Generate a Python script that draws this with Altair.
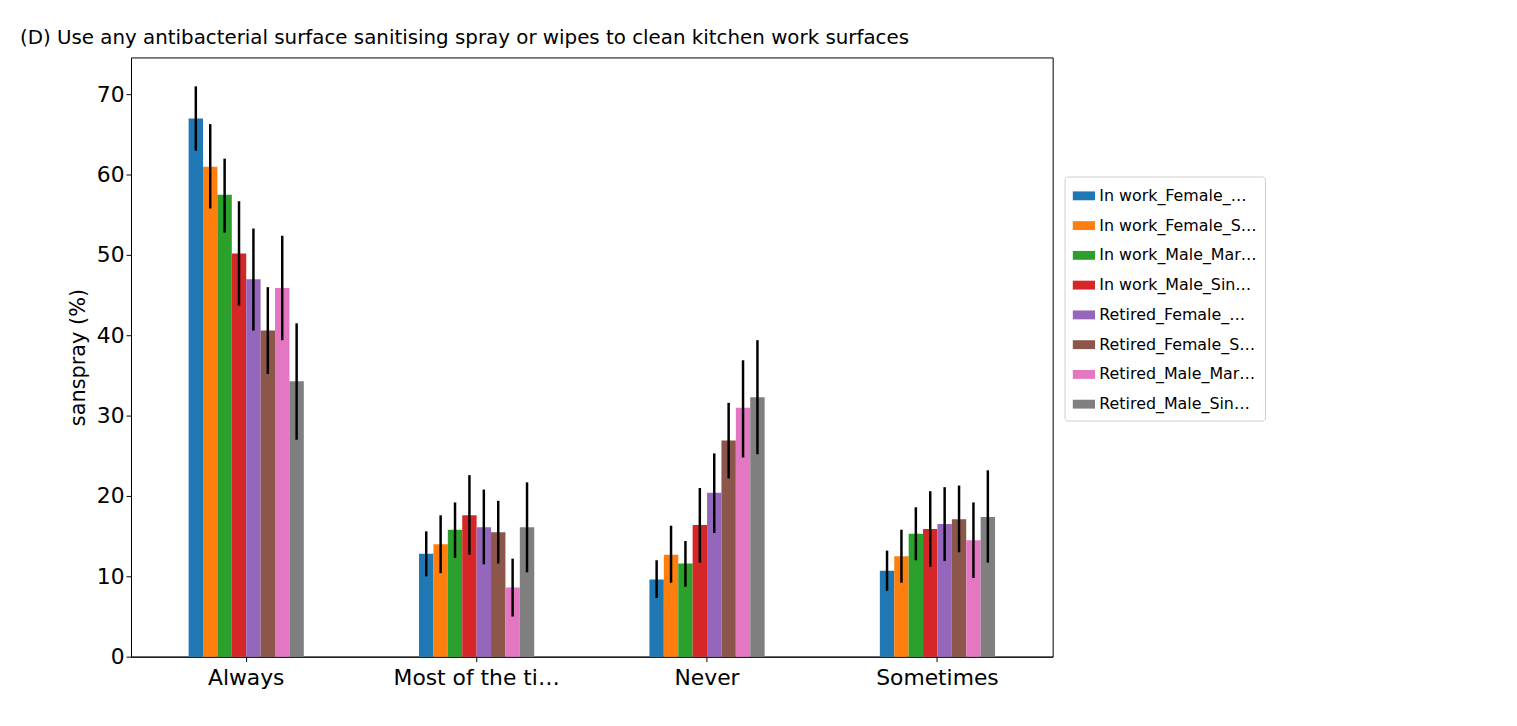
import altair as alt
import pandas as pd

cats = ["Always", "Most of the time", "Never", "Sometimes"]
groups = ["In work_Female_Married/Partnership", "In work_Female_Single/Other",
          "In work_Male_Married/Partnership", "In work_Male_Single/Other",
          "Retired_Female_Married/Partnership", "Retired_Female_Single/Other",
          "Retired_Male_Married/Partnership", "Retired_Male_Single/Other"]
colors = ["#1f77b4", "#ff7f0e", "#2ca02c", "#d62728", "#9467bd", "#8c564b", "#e377c2", "#7f7f7f"]
vals = [
    [67, 61, 57.5, 50.2, 47, 40.6, 45.9, 34.3],
    [12.8, 14, 15.8, 17.6, 16.1, 15.5, 8.6, 16.1],
    [9.6, 12.7, 11.6, 16.4, 20.4, 26.9, 31, 32.3],
    [10.7, 12.5, 15.3, 15.9, 16.5, 17.1, 14.5, 17.4],
]
hi = [
    [71, 66.3, 62, 56.7, 53.3, 46, 52.4, 41.5],
    [15.6, 17.6, 19.2, 22.6, 20.8, 19.4, 12.2, 21.7],
    [12, 16.3, 14.4, 21, 25.3, 31.6, 36.9, 39.4],
    [13.2, 15.8, 18.6, 20.6, 21.1, 21.3, 19.2, 23.2],
]
lo = [
    [63, 55.8, 52.8, 43.7, 40.6, 35.2, 39.4, 27],
    [10, 10.4, 12.3, 12.7, 11.5, 11.6, 5, 10.5],
    [7.3, 9.2, 8.7, 11.7, 15.4, 22.2, 24.8, 25.2],
    [8.2, 9.2, 12, 11.2, 11.9, 13, 9.8, 11.7],
]

rows = []
for i, c in enumerate(cats):
    for j, g in enumerate(groups):
        rows.append({"cat": c, "grp": g, "v": vals[i][j], "hi": hi[i][j], "lo": lo[i][j]})
df = pd.DataFrame(rows)

x = alt.X("cat:N", sort=cats, title=None,
          scale=alt.Scale(paddingInner=0.5, paddingOuter=0.25),
          axis=alt.Axis(labelAngle=0, labelFontSize=22, labelColor="black", tickColor="black",
                        domainColor="black", labelPadding=6))
xo = alt.XOffset("grp:N", sort=groups, scale=alt.Scale(paddingInner=0, paddingOuter=0))

bars = alt.Chart(df).mark_bar().encode(
    x=x, xOffset=xo,
    y=alt.Y("v:Q", title="sanspray (%)", scale=alt.Scale(domain=[0, 74.6], nice=False),
            axis=alt.Axis(values=[0, 10, 20, 30, 40, 50, 60, 70], grid=False, labelFontSize=22,
                          titleFontSize=21, titleFontWeight="normal", labelColor="black",
                          titleColor="black", tickColor="black", domainColor="black", titlePadding=8)),
    color=alt.Color("grp:N", sort=groups, scale=alt.Scale(domain=groups, range=colors),
                    legend=alt.Legend(title=None, orient="none", legendX=941, legendY=120,
                                      symbolType="M-1,-0.4H1V0.4H-1Z", symbolSize=500, symbolStrokeWidth=0,
                                      labelFontSize=16, strokeColor="#cccccc", padding=8, rowPadding=10,
                                      cornerRadius=3, fillColor="white", labelColor="black")),
)
errs = alt.Chart(df).mark_rule(color="black", strokeWidth=2.5).encode(
    x=x, xOffset=xo, y="lo:Q", y2="hi:Q")

chart = (bars + errs).properties(
    width=929, height=604,
    title=alt.Title("(D) Use any antibacterial surface sanitising spray or wipes to clean kitchen work surfaces",
                    anchor="start", frame="group", dx=-112, fontSize=20, fontWeight="normal",
                    color="black", offset=10),
    autosize=alt.AutoSizeParams(type="none"),
    padding={"left": 124, "top": 47, "right": 460, "bottom": 60},
).configure_view(stroke="black", strokeWidth=1).configure_axis(labelFont="DejaVu Sans", titleFont="DejaVu Sans").configure_legend(labelFont="DejaVu Sans").configure_title(font="DejaVu Sans")

chart.save("out.html", embed_options={"renderer": "svg", "actions": False})
